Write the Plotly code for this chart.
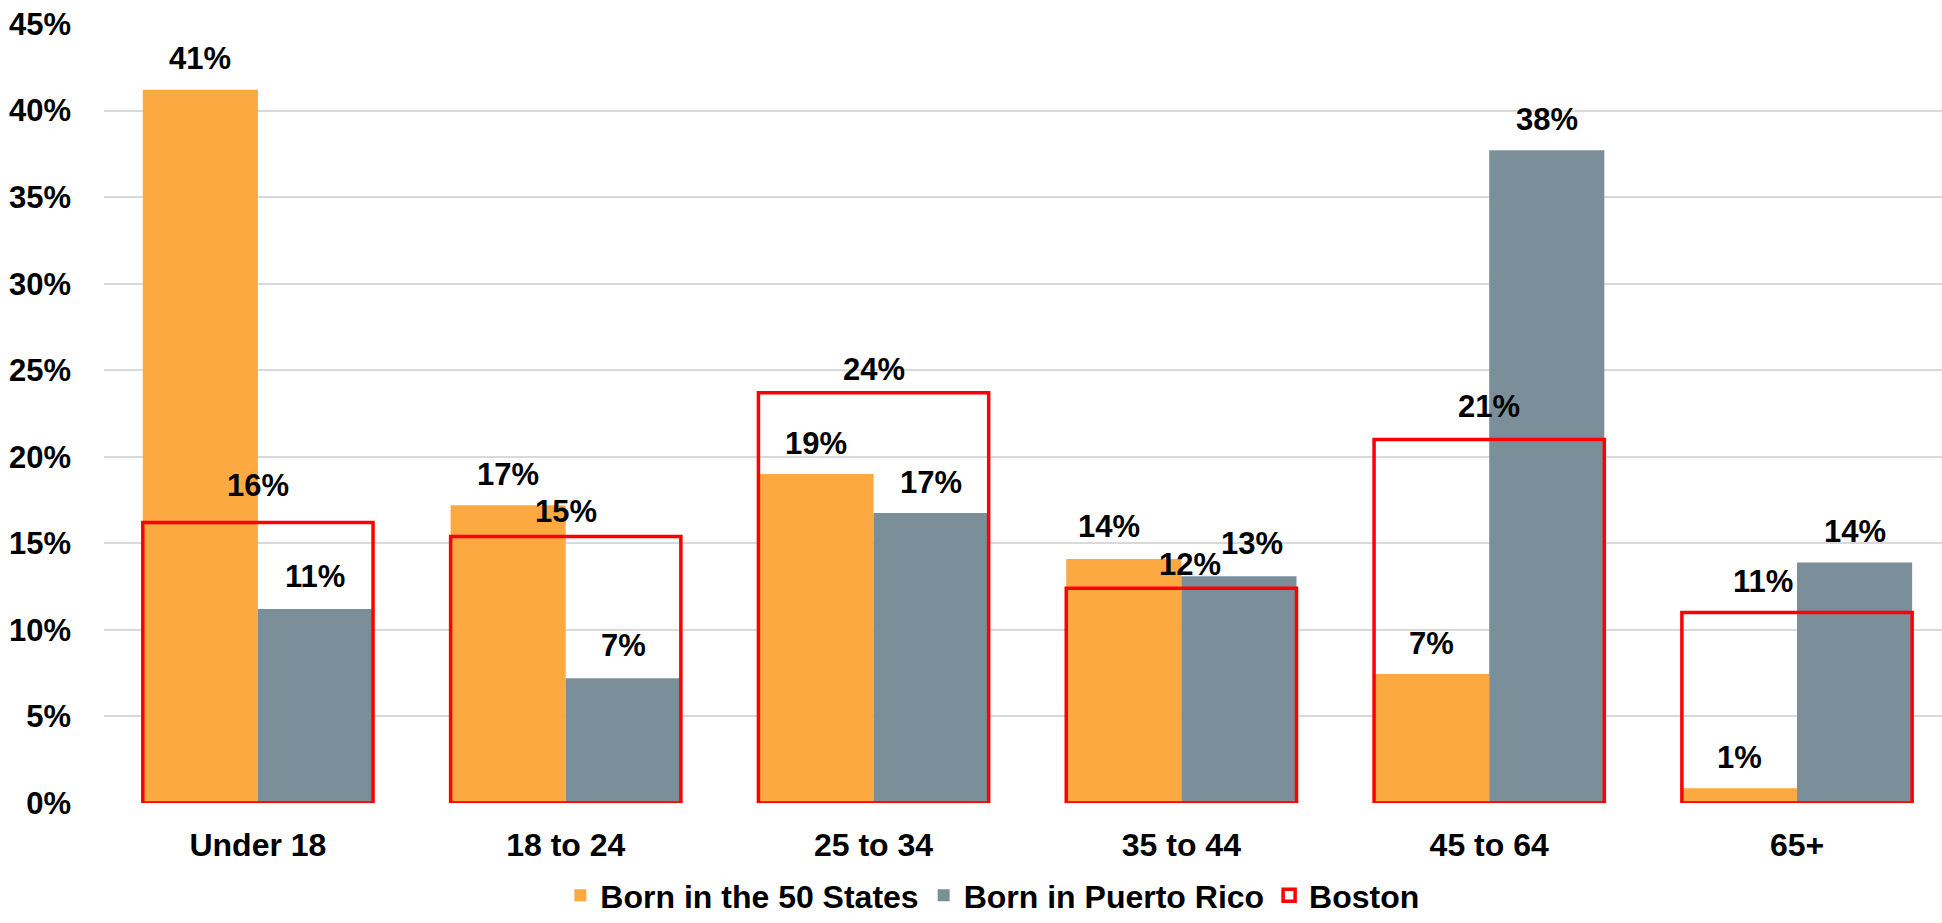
import plotly.graph_objects as go

categories = ["Under 18", "18 to 24", "25 to 34", "35 to 44", "45 to 64", "65+"]
born_50_states = [41.2, 17.2, 19.0, 14.1, 7.45, 0.85]
born_puerto_rico = [11.2, 7.2, 16.75, 13.1, 37.7, 13.9]
boston = [16.2, 15.4, 23.7, 12.4, 21.0, 11.0]
y_tick_step = 5
y_max = 45

ORANGE = "#FDA942"
GRAY = "#7A8F9A"
RED = "#FF0000"
FONT = "Liberation Sans, Arial, sans-serif"

BAR_W = 0.374

fig = go.Figure()
fig.add_trace(go.Bar(
    name="Born in the 50 States", x=categories, y=born_50_states,
    marker=dict(color=ORANGE, line=dict(width=0)),
    width=BAR_W, offset=-BAR_W,
))
fig.add_trace(go.Bar(
    name="Born in Puerto Rico", x=categories, y=born_puerto_rico,
    marker=dict(color=GRAY, line=dict(width=0)),
    width=BAR_W, offset=0,
))
fig.add_trace(go.Bar(
    name="Boston", x=categories, y=boston,
    marker=dict(color="rgba(255,255,255,0)", line=dict(color=RED, width=3.5)),
    width=2 * BAR_W, offset=-BAR_W,
))

# label placement (pixel nudges for the few labels moved to avoid overlaps)
default_lift = 31
lift = {
    ("boston", 0): 37, ("boston", 1): 25, ("boston", 2): 23, ("boston", 3): 24,
    ("boston", 4): 33, ("pr", 0): 33, ("pr", 1): 33, ("pr", 3): 33, ("s50", 3): 32,
}
xnudge = {("s50", 3): -15, ("pr", 3): 13, ("boston", 3): 9, ("boston", 5): -34}

series = [("s50", born_50_states, -BAR_W / 2), ("pr", born_puerto_rico, BAR_W / 2), ("boston", boston, 0.0)]
annotations = []
for key, vals, off in series:
    for i, v in enumerate(vals):
        annotations.append(dict(
            x=i + off, y=v, xref="x", yref="y",
            text=f"{v:.0f}%", showarrow=False,
            xanchor="center", yanchor="middle",
            yshift=lift.get((key, i), default_lift),
            xshift=xnudge.get((key, i), 0),
            font=dict(family=FONT, size=31, color="#000000", weight="bold"),
        ))

fig.update_layout(
    width=1942, height=923,
    margin=dict(l=104, r=0, t=24, b=120),
    paper_bgcolor="white", plot_bgcolor="white",
    barmode="overlay",
    font=dict(family=FONT, size=30, color="#000000", weight="bold"),
    annotations=annotations,
    showlegend=True,
    legend=dict(
        orientation="h", xref="container", yref="container",
        x=0.511, xanchor="center", y=-0.006, yanchor="bottom",
        font=dict(family=FONT, size=32, color="#000000", weight="bold"),
        itemwidth=30, traceorder="normal",
    ),
    xaxis=dict(
        type="category", categoryorder="array", categoryarray=categories,
        range=[-0.5, 5.471], showgrid=False, zeroline=False, showline=False,
        ticks="", ticklabelstandoff=20,
        tickfont=dict(family=FONT, size=32, color="#000000", weight="bold"),
    ),
    yaxis=dict(
        range=[0, y_max], tickmode="linear", tick0=0, dtick=y_tick_step, ticksuffix="%",
        showgrid=True, gridcolor="#D9D9D9", gridwidth=1.5,
        zeroline=False, showline=False, ticks="", ticklabelstandoff=32,
        tickfont=dict(family=FONT, size=31, color="#000000", weight="bold"),
    ),
)

fig.write_html(
    "out.html",
    config={"displayModeBar": False},
    post_script="document.body.style.margin='0';document.body.style.padding='0';",
)
